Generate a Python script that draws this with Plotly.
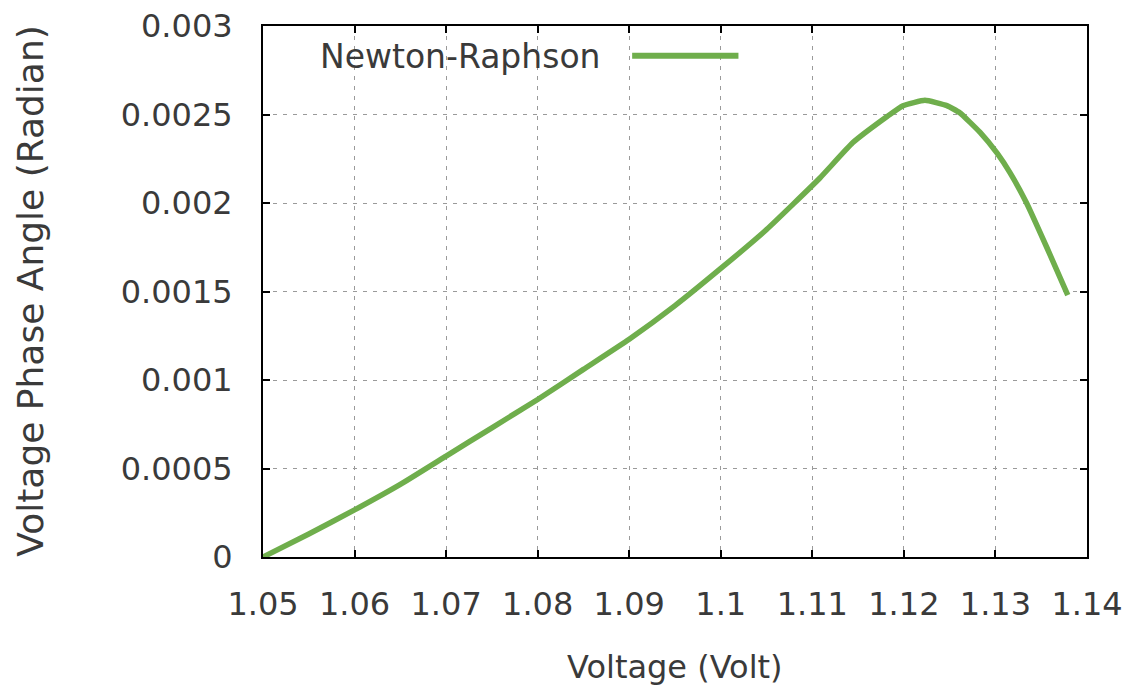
import plotly.graph_objects as go

# Voltage magnitude (V) and phase angle (rad) from the Newton-Raphson sweep
voltage = [1.050, 1.055, 1.060, 1.065, 1.070, 1.075, 1.080, 1.085, 1.090, 1.095,
           1.100, 1.105, 1.1108, 1.1144, 1.1182, 1.1199, 1.1223, 1.1247, 1.1261,
           1.1283, 1.1302, 1.1316, 1.1334, 1.1356, 1.1379]
phase_angle = [0.0, 0.00013, 0.000266, 0.00041, 0.00057, 0.00073, 0.00089, 0.00106,
               0.00123, 0.00142, 0.00163, 0.00185, 0.00214, 0.00234, 0.00249,
               0.00255, 0.00258, 0.00255, 0.00251, 0.00240, 0.00228, 0.00217,
               0.00200, 0.00175, 0.00148]

x_ticks = [1.05, 1.06, 1.07, 1.08, 1.09, 1.10, 1.11, 1.12, 1.13, 1.14]
x_tick_text = ["1.05", "1.06", "1.07", "1.08", "1.09", "1.1", "1.11", "1.12", "1.13", "1.14"]
y_ticks = [0, 0.0005, 0.001, 0.0015, 0.002, 0.0025, 0.003]
y_tick_text = ["0", "0.0005", "0.001", "0.0015", "0.002", "0.0025", "0.003"]

series_name = "Newton-Raphson"
line_color = "#6fae4c"
font_family = "DejaVu Sans, sans-serif"
text_color = "#3a3a3a"

fig = go.Figure()
fig.add_trace(go.Scatter(
    x=voltage, y=phase_angle, mode="lines", name=series_name,
    line=dict(color=line_color, width=5.5, shape="spline", smoothing=0.4),
    showlegend=False,
))

axis_common = dict(
    showline=True, linecolor="black", linewidth=2, mirror="ticks",
    ticks="inside", ticklen=7, tickwidth=2, tickcolor="black",
    showgrid=True, gridcolor="#9a9a9a", gridwidth=1, griddash="4px,6px",
    zeroline=False, automargin=False,
    tickfont=dict(family=font_family, size=32, color=text_color),
)

fig.update_xaxes(
    range=[1.05, 1.14], tickvals=x_ticks, ticktext=x_tick_text,
    ticklabelstandoff=18,
    **axis_common,
)
fig.update_yaxes(
    range=[0, 0.003], tickvals=y_ticks, ticktext=y_tick_text,
    ticklabelstandoff=22,
    **axis_common,
)

# axis titles
fig.add_annotation(
    xref="paper", yref="paper", x=0.5, y=-0.208, xanchor="center", yanchor="middle",
    text="Voltage (Volt)", showarrow=False,
    font=dict(family=font_family, size=32, color=text_color),
)
fig.add_annotation(
    xref="paper", yref="paper", x=-0.2826, y=0.5, xanchor="center", yanchor="middle",
    text="Voltage Phase Angle (Radian)", showarrow=False, textangle=-90,
    font=dict(family=font_family, size=36, color=text_color),
)

# gnuplot-style key: label on the left, line sample on the right
fig.add_annotation(
    xref="paper", yref="paper", x=0.0665, y=0.942, xanchor="left", yanchor="middle",
    text=series_name, showarrow=False,
    font=dict(family=font_family, size=33, color=text_color),
)
fig.add_shape(
    type="line", xref="paper", yref="paper", x0=0.448, x1=0.577, y0=0.944, y1=0.944,
    line=dict(color=line_color, width=6),
)

fig.update_layout(
    width=1126, height=688,
    margin=dict(l=263, r=39, t=26, b=131),
    paper_bgcolor="white", plot_bgcolor="white",
    font=dict(family=font_family, color=text_color),
)

fig.write_html("out.html")
